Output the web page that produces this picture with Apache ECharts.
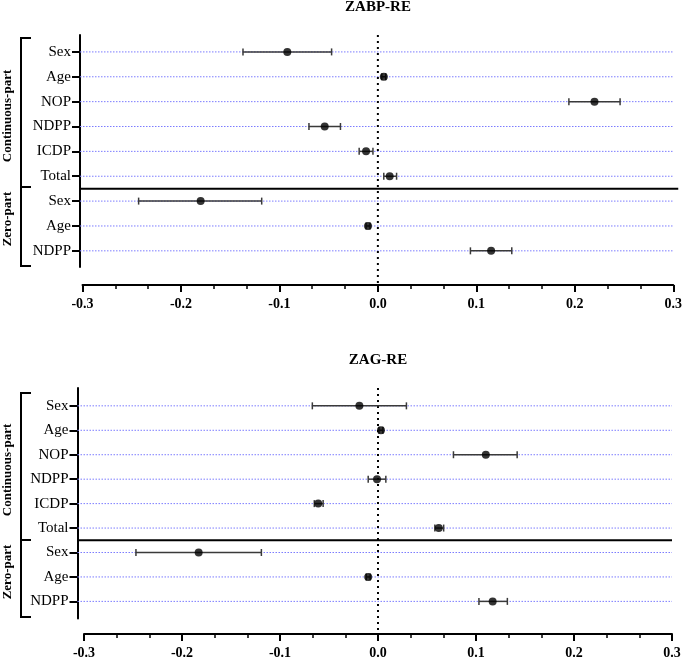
<!DOCTYPE html>
<html>
<head>
<meta charset="utf-8">
<script src="https://cdn.jsdelivr.net/npm/echarts@6/dist/echarts.min.js"></script>
<style>
  html, body { margin: 0; padding: 0; background: #fff; }
  #main { width: 685px; height: 660px; }
</style>
</head>
<body>
<div id="main"></div>
<script>
// rows, top to bottom (first 6 = continuous part, last 3 = zero part)
const rowLabels = ['Sex', 'Age', 'NOP', 'NDPP', 'ICDP', 'Total', 'Sex', 'Age', 'NDPP'];

// ZABP-RE
const zabpEst  = [-0.092, 0.006, 0.220, -0.054, -0.012, 0.012, -0.180, -0.010, 0.115];
const zabpLow  = [-0.137, 0.004, 0.194, -0.070, -0.019, 0.006, -0.243, -0.012, 0.094];
const zabpHigh = [-0.047, 0.008, 0.246, -0.038, -0.005, 0.019, -0.118, -0.008, 0.136];

// ZAG-RE
const zagEst  = [-0.019, 0.003, 0.110, -0.001, -0.061, 0.062, -0.183, -0.010, 0.117];
const zagLow  = [-0.067, 0.001, 0.077, -0.010, -0.065, 0.058, -0.247, -0.012, 0.103];
const zagHigh = [ 0.029, 0.005, 0.142,  0.008, -0.056, 0.067, -0.119, -0.008, 0.132];

const titles = ['ZABP-RE', 'ZAG-RE'];
const xMin = -0.3, xMax = 0.3, xStep = 0.1;
const splitAt = 5.5; // between "Total" and zero-part "Sex"

const FONT = '"Liberation Serif", "Times New Roman", serif';

// pixel layout per panel
const panels = [
  { grid: { left: 82.5, right: 11, top: 35, height: 232 }, yMin: -0.68, yMax: 8.65,
    yOff: 2.5, xOff: 18, sepEnd: 5, est: zabpEst, low: zabpLow, high: zabpHigh },
  { grid: { left: 84, right: 13, top: 388, height: 232 }, yMin: -0.73, yMax: 8.7,
    yOff: 6.5, xOff: 15.5, sepEnd: 0, est: zagEst, low: zagLow, high: zagHigh }
];

const chart = echarts.init(document.getElementById('main'));

const grids = [], xAxes = [], yAxes = [], series = [];
const rowIdx = rowLabels.map((_, i) => i);

panels.forEach((p, k) => {
  grids.push(p.grid);
  xAxes.push({
    type: 'value', gridIndex: k, min: xMin, max: xMax, interval: xStep,
    position: 'bottom', offset: p.xOff,
    axisLine: { show: true, onZero: false, lineStyle: { color: '#000', width: 2 } },
    axisTick: { show: true, length: 7, lineStyle: { color: '#000', width: 2 } },
    minorTick: { show: true, splitNumber: 3, length: 4, lineStyle: { color: '#000', width: 1.5 } },
    axisLabel: {
      margin: 12, color: '#000', fontFamily: FONT, fontSize: 14, fontWeight: 'bold',
      formatter: v => v.toFixed(1)
    },
    splitLine: { show: false }
  });
  yAxes.push({
    type: 'value', gridIndex: k, inverse: true, min: p.yMin, max: p.yMax,
    position: 'left', offset: p.yOff,
    axisLine: { show: true, onZero: false, lineStyle: { color: '#000', width: 2 } },
    axisTick: { show: true, length: 8, customValues: rowIdx, lineStyle: { color: '#000', width: 2 } },
    axisLabel: {
      margin: 9, color: '#000', fontFamily: FONT, fontSize: 15, customValues: rowIdx,
      formatter: v => rowLabels[Math.round(v)]
    },
    splitLine: { show: false }
  });

  // blue dotted row guide lines
  series.push({
    type: 'custom', xAxisIndex: k, yAxisIndex: k, z: 1, silent: true,
    data: rowIdx.map(i => [0, i]),
    encode: { x: 0, y: 1 },
    renderItem: (params, api) => {
      const a = api.coord([xMin, api.value(1)]);
      const b = api.coord([xMax, api.value(1)]);
      return {
        type: 'line',
        shape: { x1: a[0] - p.yOff, y1: a[1], x2: b[0], y2: b[1] },
        style: { stroke: '#7c7cff', lineWidth: 1, lineDash: [1.5, 1.5] }
      };
    }
  });

  // zero reference line and part separator
  series.push({
    type: 'custom', xAxisIndex: k, yAxisIndex: k, z: 2, silent: true,
    data: [[0, splitAt]],
    encode: { x: 0, y: 1 },
    renderItem: (params, api) => {
      const top = api.coord([0, p.yMin]);
      const bot = api.coord([0, p.yMax]);
      const s = api.coord([xMin, api.value(1)]);
      const e = api.coord([xMax, api.value(1)]);
      return {
        type: 'group',
        children: [
          { type: 'line', shape: { x1: top[0], y1: top[1], x2: bot[0], y2: bot[1] + p.xOff },
            style: { stroke: '#000', lineWidth: 2, lineDash: [2, 4] } },
          { type: 'line', shape: { x1: s[0] - p.yOff, y1: s[1], x2: e[0] + p.sepEnd, y2: e[1] },
            style: { stroke: '#000', lineWidth: 2 } }
        ]
      };
    }
  });

  // confidence intervals
  series.push({
    type: 'custom', xAxisIndex: k, yAxisIndex: k, z: 3, silent: true,
    data: rowIdx.map(i => [p.low[i], p.high[i], i]),
    encode: { x: [0, 1], y: 2 },
    renderItem: (params, api) => {
      const lo = api.coord([api.value(0), api.value(2)]);
      const hi = api.coord([api.value(1), api.value(2)]);
      const st = { stroke: '#3a3a3a', lineWidth: 1.5 };
      const h = 3.5;
      return {
        type: 'group',
        children: [
          { type: 'line', shape: { x1: lo[0], y1: lo[1], x2: hi[0], y2: hi[1] }, style: st },
          { type: 'line', shape: { x1: lo[0], y1: lo[1] - h, x2: lo[0], y2: lo[1] + h }, style: st },
          { type: 'line', shape: { x1: hi[0], y1: hi[1] - h, x2: hi[0], y2: hi[1] + h }, style: st }
        ]
      };
    }
  });

  // point estimates
  series.push({
    type: 'scatter', xAxisIndex: k, yAxisIndex: k, z: 4, silent: true,
    symbol: 'circle', symbolSize: 8,
    itemStyle: { color: '#000' },
    data: p.est.map((v, i) => [v, i])
  });
});

// titles, brackets and part labels
const graphics = [];
const titleY = [7, 360];
const bracket = [
  { top: 38, mid: 187, bot: 266, contY: 116, zeroY: 219 },
  { top: 393, mid: 540, bot: 617, contY: 470, zeroY: 572 }
];
titles.forEach((t, k) => {
  graphics.push({
    type: 'text', x: 378, y: titleY[k],
    style: { text: t, fill: '#000', font: 'bold 15px ' + FONT, textAlign: 'center', textVerticalAlign: 'middle' }
  });
  const b = bracket[k];
  graphics.push({
    type: 'polyline',
    shape: { points: [[31, b.top], [21, b.top], [21, b.bot], [31, b.bot]] },
    style: { stroke: '#000', lineWidth: 2, fill: null }
  });
  graphics.push({
    type: 'line', shape: { x1: 21, y1: b.mid, x2: 31, y2: b.mid },
    style: { stroke: '#000', lineWidth: 2 }
  });
  graphics.push({
    type: 'text', x: 8, y: b.contY, rotation: Math.PI / 2,
    style: { text: 'Continuous-part', fill: '#000', font: 'bold 13px ' + FONT, textAlign: 'center', textVerticalAlign: 'middle' }
  });
  graphics.push({
    type: 'text', x: 8, y: b.zeroY, rotation: Math.PI / 2,
    style: { text: 'Zero-part', fill: '#000', font: 'bold 13px ' + FONT, textAlign: 'center', textVerticalAlign: 'middle' }
  });
});

chart.setOption({
  animation: false,
  backgroundColor: '#fff',
  textStyle: { fontFamily: FONT },
  grid: grids,
  xAxis: xAxes,
  yAxis: yAxes,
  series: series,
  graphic: graphics
});
</script>
</body>
</html>
